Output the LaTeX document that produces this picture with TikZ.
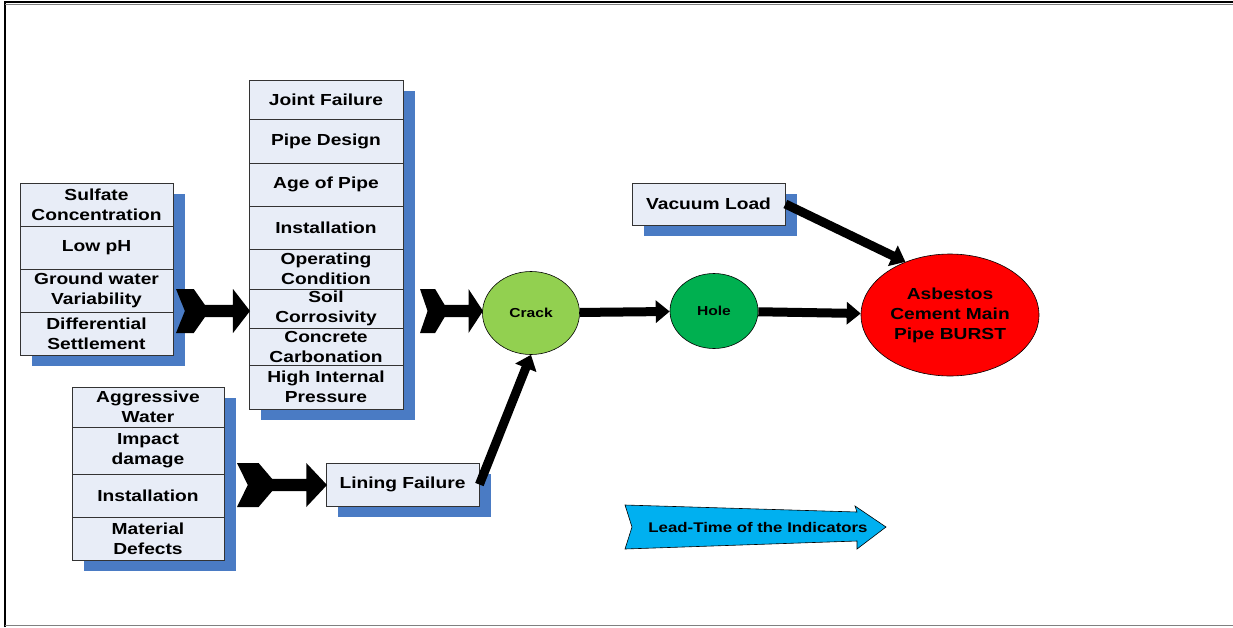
\documentclass[tikz,border=0pt]{standalone}
\usepackage{fontspec}
\setmainfont{Liberation Sans}[FakeStretch=1.2]
\usetikzlibrary{arrows.meta,shapes.geometric,backgrounds}
\definecolor{boxfill}{HTML}{E8EDF7}
\definecolor{shadowblue}{HTML}{4A7BC4}
\definecolor{crackgreen}{HTML}{92D050}
\definecolor{holegreen}{HTML}{00B050}
\definecolor{leadblue}{HTML}{00B0F0}
% notched block arrow in unit coordinates (length 1, height 1)
\newcommand\notchedarrow{%
  \fill[black] (0,-0.5) -- (0.24,-0.5) -- (0.39,-0.14) -- (0.77,-0.14) -- (0.77,-0.5)
    -- (1,0) -- (0.77,0.5) -- (0.77,0.14) -- (0.39,0.14) -- (0.24,0.5)
    -- (0,0.5) -- (0.12,0) -- cycle;}
\begin{document}
\begin{tikzpicture}[x=1pt,y=-1pt,
  cell/.style={draw=black!80, line width=0.8pt, fill=boxfill, inner sep=0pt,
    align=center, font=\fontsize{16}{20}\selectfont\bfseries},
  w153/.style={minimum width=153pt},
  w154/.style={minimum width=154pt},
  blob/.style={ellipse, draw=black, line width=0.6pt, inner sep=0pt,
    align=center},
  conn/.style={line width=9pt, -{Triangle[length=14pt,width=22pt]}},
]
\useasboundingbox (0,0) rectangle (1233,627);

% frame
\draw[black, line width=2pt] (5,627) -- (5,2) -- (1233,2);
\draw[gray, line width=0.8pt] (5,4.5) -- (1233,4.5);
\draw[gray, line width=1.5pt] (5,625.5) -- (1233,625.5);

% external factors (left column)
\node[cell,w153,minimum height=43pt] (s1) at (96.5,204.5) {Sulfate\\Concentration};
\node[cell,w153,minimum height=43pt] (s2) at (96.5,247.5) {Low pH};
\node[cell,w153,minimum height=43pt] (s3) at (96.5,290.5) {Ground water\\Variability};
\node[cell,w153,minimum height=43pt] (s4) at (96.5,333.5) {Differential\\Settlement};

% pipe factors (middle column)
\node[cell,w154,minimum height=39pt] (m1) at (326,99.5) {Joint Failure};
\node[cell,w154,minimum height=44pt] (m2) at (326,141) {Pipe Design};
\node[cell,w154,minimum height=43pt] (m3) at (326,184.5) {Age of Pipe};
\node[cell,w154,minimum height=43pt] (m4) at (326,227.5) {Installation};
\node[cell,w154,minimum height=40pt] (m5) at (326,269) {Operating\\Condition};
\node[cell,w154,minimum height=39pt] (m6) at (326,308.5) {Soil\\Corrosivity};
\node[cell,w154,minimum height=37pt] (m7) at (326,346.5) {Concrete\\Carbonation};
\node[cell,w154,minimum height=44pt] (m8) at (326,387) {High Internal\\Pressure};

% lining factors (bottom column)
\node[cell,minimum width=152pt,minimum height=40pt] (b1) at (148,407) {Aggressive\\Water};
\node[cell,minimum width=152pt,minimum height=47pt] (b2) at (148,450.5) {Impact\\damage};
\node[cell,minimum width=152pt,minimum height=43pt] (b3) at (148,495.5) {Installation};
\node[cell,minimum width=152pt,minimum height=43pt] (b4) at (148,538.5) {Material\\Defects};

% single boxes
\node[cell,w153,minimum height=43pt] (lin) at (402.5,484.5) {Lining Failure};
\node[cell,w153,minimum height=42pt] (vac) at (708.5,204) {Vacuum Load};

% failure stages
\node[blob, fill=crackgreen, minimum width=97pt, minimum height=83pt,
  font=\fontsize{13}{16}\selectfont\bfseries] (crack) at (531,313) {Crack};
\node[blob, fill=holegreen, minimum width=88pt, minimum height=75pt,
  font=\fontsize{13}{16}\selectfont\bfseries] (hole) at (714,311) {Hole};
\node[blob, fill=red, minimum width=178pt, minimum height=122pt,
  font=\fontsize{16}{20}\selectfont\bfseries] (burst) at (950,315)
  {Asbestos\\Cement Main\\Pipe BURST};

% drop shadows
\begin{pgfonlayer}{background}
  \fill[shadowblue] ([shift={(12,11)}]s1.north west) rectangle ([shift={(12,11)}]s4.south east);
  \fill[shadowblue] ([shift={(12,11)}]m1.north west) rectangle ([shift={(12,11)}]m8.south east);
  \fill[shadowblue] ([shift={(12,11)}]b1.north west) rectangle ([shift={(12,11)}]b4.south east);
  \fill[shadowblue] ([shift={(12,11)}]lin.north west) rectangle ([shift={(12,11)}]lin.south east);
  \fill[shadowblue] ([shift={(12,11)}]vac.north west) rectangle ([shift={(12,11)}]vac.south east);
\end{pgfonlayer}

% notched block arrows between the factor columns
\begin{scope}[shift={(176,311)}, xscale=74, yscale=44]
  \notchedarrow
\end{scope}
\begin{scope}[shift={(420,311)}, xscale=63, yscale=44]
  \notchedarrow
\end{scope}
\begin{scope}[shift={(237,485)}, xscale=90, yscale=44]
  \notchedarrow
\end{scope}

% connectors
\draw[conn] (crack) -- (hole);
\draw[conn] (hole) -- (burst);
\draw[conn] (vac.east) -- (burst.130);
\draw[conn] (lin.east) -- (crack.south);

% lead-time arrow
\draw[fill=leadblue, line width=0.6pt] (625,505) -- (857,512) -- (855,506) -- (886,527)
  -- (857,549) -- (857,541) -- (625,549) -- (632,527) -- cycle;
\node[font=\fontsize{14}{16}\selectfont\bfseries] (lead) at (758,527) {Lead-Time of the Indicators};
\end{tikzpicture}
\end{document}
